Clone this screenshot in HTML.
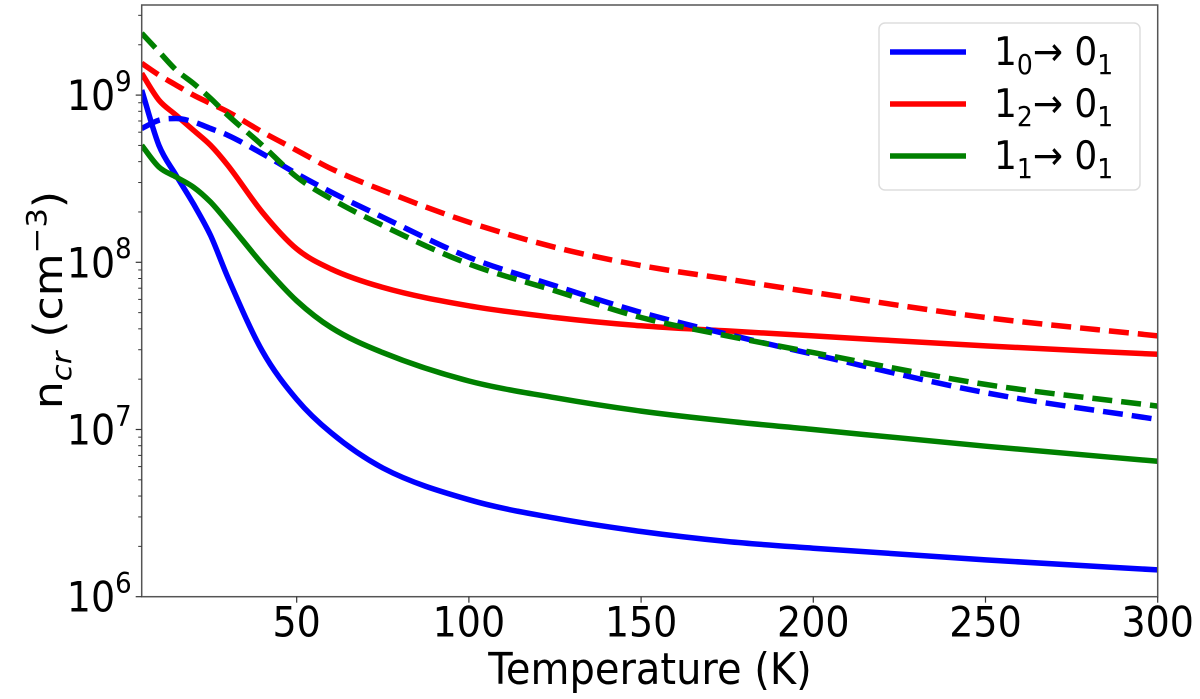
<!DOCTYPE html>
<html><head><meta charset="utf-8">
<style>
html,body{margin:0;padding:0;background:#fff;}
svg{display:block;font-family:"DejaVu Sans","Liberation Sans",sans-serif;}
</style></head>
<body>
<svg id="chart" width="1200" height="699" viewBox="0 0 1200 699">
  <g id="plot"></g>
  <g id="axes"></g>
  <text transform="translate(650,684) scale(1,1.1)" font-size="40" text-anchor="middle">Temperature (K)</text>
  <text transform="translate(62,300) rotate(-90) scale(1.1,1)" font-size="40" text-anchor="middle">n<tspan font-style="italic" font-size="28" dy="9">cr</tspan><tspan dy="-9"> (cm</tspan><tspan font-size="28" dy="-16">−3</tspan><tspan dy="16">)</tspan></text>
  <g>
    <rect x="879" y="23" width="261" height="167" rx="6" fill="#fff" fill-opacity="0.8" stroke="#ddd" stroke-width="1.5"/>
    <g>
      <line x1="890" y1="52" x2="966" y2="52" stroke="#0000ff" stroke-width="5.5"/>
      <text transform="translate(994,65) scale(1,1.1)" font-size="36">1<tspan font-size="25" dy="8">0</tspan><tspan dy="-8">→ 0</tspan><tspan font-size="25" dy="8">1</tspan></text>
    </g>
    <g>
      <line x1="890" y1="104" x2="966" y2="104" stroke="#ff0000" stroke-width="5.5"/>
      <text transform="translate(994,117) scale(1,1.1)" font-size="36">1<tspan font-size="25" dy="8">2</tspan><tspan dy="-8">→ 0</tspan><tspan font-size="25" dy="8">1</tspan></text>
    </g>
    <g>
      <line x1="890" y1="156" x2="966" y2="156" stroke="#008000" stroke-width="5.5"/>
      <text transform="translate(994,169) scale(1,1.1)" font-size="36">1<tspan font-size="25" dy="8">1</tspan><tspan dy="-8">→ 0</tspan><tspan font-size="25" dy="8">1</tspan></text>
    </g>
  </g>
</svg>
<script>
const temps = [5,10,15,20,25,30,40,50,60,75,100,125,150,175,200,250,300];
const blueSolid  = [9.03,8.70,8.52,8.35,8.16,7.91,7.47,7.18,6.98,6.77,6.58,6.47,6.39,6.33,6.29,6.22,6.16];
const redSolid   = [9.13,8.97,8.88,8.79,8.70,8.58,8.30,8.08,7.96,7.85,7.74,7.67,7.62,7.59,7.56,7.50,7.45];
const greenSolid = [8.70,8.57,8.51,8.45,8.36,8.24,7.99,7.77,7.61,7.46,7.29,7.19,7.11,7.05,7.00,6.90,6.81];
const blueDashed = [8.80,8.85,8.86,8.84,8.80,8.76,8.65,8.53,8.42,8.27,8.03,7.86,7.70,7.57,7.45,7.22,7.06];
const redDashed  = [9.19,9.12,9.06,9.00,8.95,8.90,8.78,8.67,8.56,8.43,8.24,8.09,7.98,7.90,7.82,7.67,7.56];
const greenDashed= [9.37,9.26,9.15,9.07,8.98,8.88,8.70,8.51,8.38,8.22,7.99,7.83,7.67,7.56,7.46,7.27,7.14];
const xTicks = [50,100,150,200,250,300];
const yTicks = [6,7,8,9];

const L=141.7,R=1157.7,T=5,B=596.7;
const xMin=5,xMax=300,yMin=6,yMax=6+(B-T)/167.2;
function xs(v){return L+(v-xMin)/(xMax-xMin)*(R-L);}
function ys(v){return B-(v-yMin)/(yMax-yMin)*(B-T);}
const NS="http://www.w3.org/2000/svg";
const plot=document.getElementById('plot');
const axes=document.getElementById('axes');
function mk(tag,attrs,parent){const e=document.createElementNS(NS,tag);for(const k in attrs)e.setAttribute(k,attrs[k]);parent.appendChild(e);return e;}

function smoothPath(px,py){
  const n=px.length,d=[],m=new Array(n);
  for(let i=0;i<n-1;i++)d.push((py[i+1]-py[i])/(px[i+1]-px[i]));
  m[0]=d[0];m[n-1]=d[n-2];
  for(let i=1;i<n-1;i++){m[i]=(d[i-1]*d[i]<=0)?0:(d[i-1]+d[i])/2;}
  for(let i=0;i<n-1;i++){
    if(d[i]===0){m[i]=0;m[i+1]=0;continue;}
    const a=m[i]/d[i],b=m[i+1]/d[i],s=a*a+b*b;
    if(s>9){const t=3/Math.sqrt(s);m[i]=t*a*d[i];m[i+1]=t*b*d[i];}
  }
  let p='M'+px[0].toFixed(1)+','+py[0].toFixed(1);
  for(let i=0;i<n-1;i++){
    const h=(px[i+1]-px[i])/3;
    p+=' C'+(px[i]+h).toFixed(1)+','+(py[i]+m[i]*h).toFixed(1)+' '+(px[i+1]-h).toFixed(1)+','+(py[i+1]-m[i+1]*h).toFixed(1)+' '+px[i+1].toFixed(1)+','+py[i+1].toFixed(1);
  }
  return p;
}

const series=[
 {d:blueSolid,c:'#0000ff',dash:null,n:'line-1-0-solid'},
 {d:redSolid,c:'#ff0000',dash:null,n:'line-1-2-solid'},
 {d:greenSolid,c:'#008000',dash:null,n:'line-1-1-solid'},
 {d:blueDashed,c:'#0000ff',dash:'20 9',n:'line-1-0-dashed'},
 {d:redDashed,c:'#ff0000',dash:'20 9',n:'line-1-2-dashed'},
 {d:greenDashed,c:'#008000',dash:'20 9',n:'line-1-1-dashed'}
];
const clip=mk('clipPath',{id:'clp'},plot);
mk('rect',{x:L,y:T,width:R-L,height:B-T},clip);
series.forEach(s=>{
  const px=temps.map(xs),py=s.d.map(ys);
  const p=mk('path',{d:smoothPath(px,py),fill:'none',stroke:s.c,'stroke-width':5.5,'stroke-linejoin':'round','clip-path':'url(#clp)'},plot);
  if(s.dash)p.setAttribute('stroke-dasharray',s.dash);
  
  
});

const frame=mk('rect',{x:L,y:T,width:R-L,height:B-T,fill:'none',stroke:'#555','stroke-width':1.5},axes);


xTicks.forEach(v=>{
  const x=xs(v);
  mk('line',{x1:x,y1:B,x2:x,y2:B+6,stroke:'#333','stroke-width':1.2},axes);
  const t=mk('text',{transform:'translate('+x+','+(B+40)+') scale(1,1.1)','font-size':38,'text-anchor':'middle'},axes);
  t.textContent=v;
  
  
});
yTicks.forEach(v=>{
  const y=ys(v);
  mk('line',{x1:L-6,y1:y,x2:L,y2:y,stroke:'#333','stroke-width':1.2},axes);
  const t=mk('text',{transform:'translate('+(L-10)+','+(y+15)+') scale(1,1.1)','font-size':38,'text-anchor':'end'},axes);
  t.textContent='10';
  const sp=mk('tspan',{'font-size':26,dy:-17},t);
  sp.textContent=v;
  
  
  for(let k=2;k<=9;k++){
    const yy=ys(v+Math.log10(k));
    if(yy<T)continue;
    mk('line',{x1:L-3.5,y1:yy,x2:L,y2:yy,stroke:'#333','stroke-width':1},axes);
  }
});
</script>
</body></html>
